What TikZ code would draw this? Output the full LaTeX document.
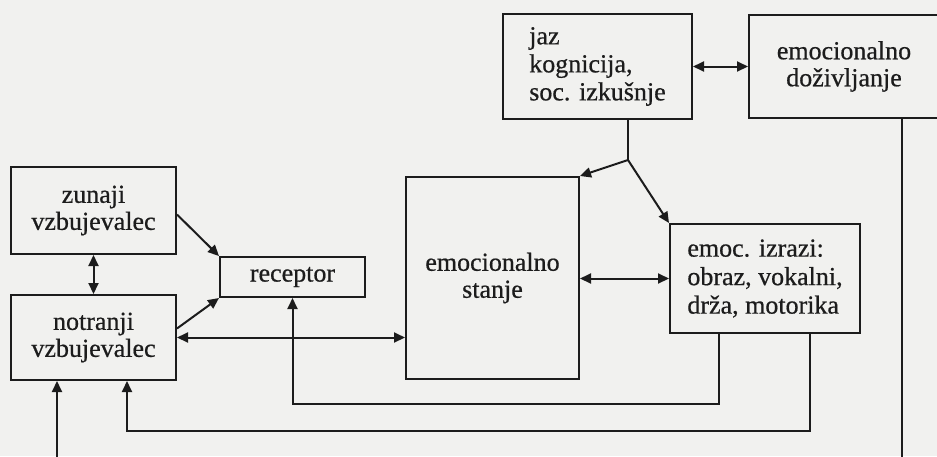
\documentclass[tikz,border=0pt]{standalone}
\usepackage{fontspec}
\setmainfont{Liberation Serif}
\newfontfamily\inkfont{Liberation Serif}[FakeBold=0.6]
\usetikzlibrary{arrows.meta}
\definecolor{paper}{RGB}{241,241,239}
\definecolor{ink}{RGB}{28,28,28}
\tikzset{
  box/.style={draw=ink, line width=2pt, inner sep=0pt, text=ink,
    font=\inkfont\fontsize{26}{27}\selectfont, fill=none},
  link/.style={draw=ink, line width=2pt},
  arr/.style={link, -{Triangle[length=11pt,width=10pt]}},
  darr/.style={link, {Triangle[length=11pt,width=10pt]}-{Triangle[length=11pt,width=10pt]}}
}
\begin{document}
\begin{tikzpicture}[x=1pt,y=-1pt]
  \fill[paper] (0,0) rectangle (937,456);
  \useasboundingbox (0,0) rectangle (937,456);
  \clip (0,0) rectangle (937,456);

  % boxes
  \node[box, minimum width=165, minimum height=87, align=center] (zv) at (93.5,210.5)
    {zunaji\\vzbujevalec};
  \node[box, minimum width=165, minimum height=85, align=center] (nv) at (93.5,337.5)
    {notranji\\vzbujevalec};
  \node[box, minimum width=145, minimum height=40, align=center] (rc) at (292.5,277)
    {receptor};
  \node[box, minimum width=173, minimum height=202, align=center] (es) at (492.5,278)
    {emocionalno\\stanje};
  \node[box, minimum width=190, minimum height=109, align=left,
    font=\inkfont\fontsize{26}{28.5}\selectfont] (ei) at (765,278.5)
    {emoc. izrazi:\\obraz, vokalni,\\drža, motorika};
  \node[box, minimum width=189, minimum height=105, align=left,
    font=\inkfont\fontsize{26}{28}\selectfont] (jz) at (597.5,66.5)
    {jaz\\kognicija,\\soc. izkušnje};
  \node[box, minimum width=190, minimum height=103, align=center] (ed) at (844,66.5)
    {emocionalno\\doživljanje};

  % stimuli to receptor
  \draw[darr] (zv.south) -- (nv.north);
  \draw[arr] ([yshift=-4pt]zv.east) -- (rc.north west);
  \draw[arr] ([yshift=9pt]nv.east) -- (rc.south west);
  \draw[darr] (nv.east) -- (nv.east -| es.west);

  % self / cognition
  \coordinate (sp) at (628,160);
  \draw[link] (jz.south -| sp) -- (sp);
  \draw[arr] (sp) -- (es.north east);
  \draw[arr] (sp) -- (ei.north west);
  \draw[darr] (jz.east) -- (jz.east -| ed.west);

  % state and expression
  \draw[darr] (ei.west) -- (ei.west -| es.east);

  % feedback loops
  \draw[arr] ([xshift=50pt]ei.south west) -- ++(0,70) -| (rc.south);
  \draw[arr] ([xshift=141pt]ei.south west) -- ++(0,97) -| ([xshift=33.5pt]nv.south);
  \draw[arr] ([xshift=58pt]ed.south) -- ++(0,352) -| ([xshift=-36.5pt]nv.south);
\end{tikzpicture}
\end{document}
